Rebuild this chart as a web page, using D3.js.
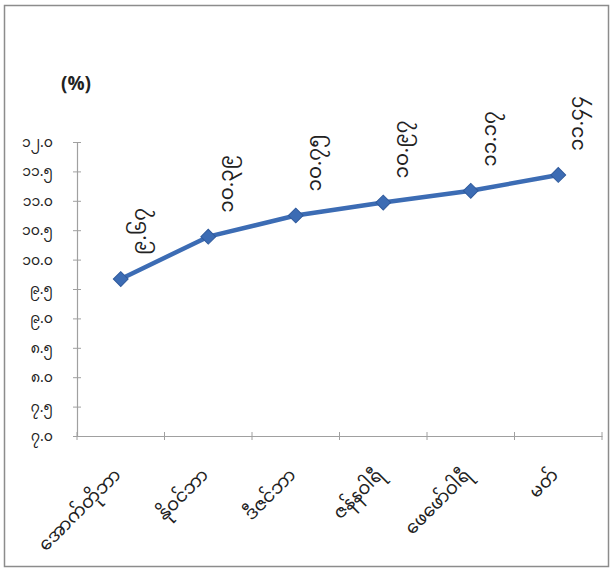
<!DOCTYPE html>
<html>
<head>
<meta charset="utf-8">
<script src="https://cdn.jsdelivr.net/npm/d3@7"></script>
<style>
  html, body { margin: 0; padding: 0; background: #ffffff; }
  svg { display: block; }
  text { font-family: "Noto Sans Myanmar", "Padauk", "Myanmar Text", "Noto Sans", "DejaVu Sans", sans-serif; }
</style>
</head>
<body>
<svg id="chart" width="613" height="580"></svg>
<script>
// ---- data ----
const categories = ["အောက်တိုဘာ", "နိုဝင်ဘာ", "ဒီဇင်ဘာ", "ဇန်နဝါရီ", "ဖေဖော်ဝါရီ", "မတ်"];
const values = [9.67, 10.39, 10.75, 10.97, 11.17, 11.44];
const valueLabels = ["၉.၆၇", "၁၀.၃၉", "၁၀.၇၅", "၁၀.၉၇", "၁၁.၁၇", "၁၁.၄၄"];
const yTicks = [7.0, 7.5, 8.0, 8.5, 9.0, 9.5, 10.0, 10.5, 11.0, 11.5, 12.0];
const yTickLabels = ["၇.၀", "၇.၅", "၈.၀", "၈.၅", "၉.၀", "၉.၅", "၁၀.၀", "၁၀.၅", "၁၁.၀", "၁၁.၅", "၁၂.၀"];
const unitLabel = "(%)";

// ---- layout ----
const svg = d3.select("#chart");
const plotLeft = 77, plotRight = 602, plotTop = 142, plotBottom = 436;

svg.append("rect")
  .attr("x", 4.5).attr("y", 5.5).attr("width", 604).attr("height", 561)
  .attr("fill", "#ffffff").attr("stroke", "#8c8c8c").attr("stroke-width", 1.5);

const x = d3.scaleBand().domain(categories).range([plotLeft, plotRight]);
const y = d3.scaleLinear().domain([7, 12]).range([plotBottom, plotTop]);

// y axis
const yAxis = d3.axisLeft(y).tickValues(yTicks)
  .tickFormat((d, i) => yTickLabels[i]).tickSize(4).tickPadding(20);
const gy = svg.append("g").attr("transform", `translate(${plotLeft},0)`).call(yAxis);
gy.select(".domain").attr("stroke", "#a0a0a0").attr("stroke-width", 1.2);
gy.selectAll(".tick line").attr("stroke", "#a0a0a0").attr("x2", 4).attr("x1", -4);
gy.selectAll(".tick text").attr("font-size", 14).attr("fill", "#222");

// x axis
const xAxis = d3.axisBottom(x).tickSize(0).tickFormat(() => "");
const gx = svg.append("g").attr("transform", `translate(0,${plotBottom})`).call(xAxis);
gx.select(".domain").attr("stroke", "#a0a0a0").attr("stroke-width", 1.2);
// category boundary ticks
const boundaries = categories.map(c => x(c)).concat([x.range()[1]]);
svg.append("g").selectAll("line").data(boundaries).join("line")
  .attr("x1", d => d).attr("x2", d => d)
  .attr("y1", plotBottom - 4).attr("y2", plotBottom + 4)
  .attr("stroke", "#a0a0a0").attr("stroke-width", 1);

// x labels rotated -45
svg.append("g").selectAll("text").data(categories).join("text")
  .attr("transform", d => `translate(${x(d) + x.bandwidth() / 2 + 1},${plotBottom + 40}) rotate(-45)`)
  .attr("text-anchor", "end")
  .attr("font-size", 18)
  .attr("fill", "#222")
  .text(d => d);

// unit label
svg.append("text").attr("x", 61).attr("y", 90)
  .attr("font-size", 19).attr("font-weight", "bold").attr("fill", "#222")
  .text(unitLabel);

// line
const cx = (d, i) => x(categories[i]) + x.bandwidth() / 2;
const line = d3.line().x((d, i) => cx(d, i)).y(d => y(d));
svg.append("path").datum(values)
  .attr("d", line).attr("fill", "none")
  .attr("stroke", "#3c6cb4").attr("stroke-width", 4.5).attr("stroke-linejoin", "round");

// markers
svg.append("g").selectAll("path").data(values).join("path")
  .attr("d", d3.symbol().type(d3.symbolSquare).size(110))
  .attr("transform", (d, i) => `translate(${cx(d, i)},${y(d)}) rotate(45)`)
  .attr("fill", "#3c6cb4").attr("stroke", "#2f5a9c").attr("stroke-width", 1);

// value labels rotated -90
svg.append("g").selectAll("text").data(values).join("text")
  .attr("transform", (d, i) => `translate(${cx(d, i) + 25},${y(d) - 24}) rotate(-90)`)
  .attr("text-anchor", "start")
  .attr("font-size", 20)
  .attr("fill", "#222")
  .text((d, i) => valueLabels[i]);
</script>
</body>
</html>
